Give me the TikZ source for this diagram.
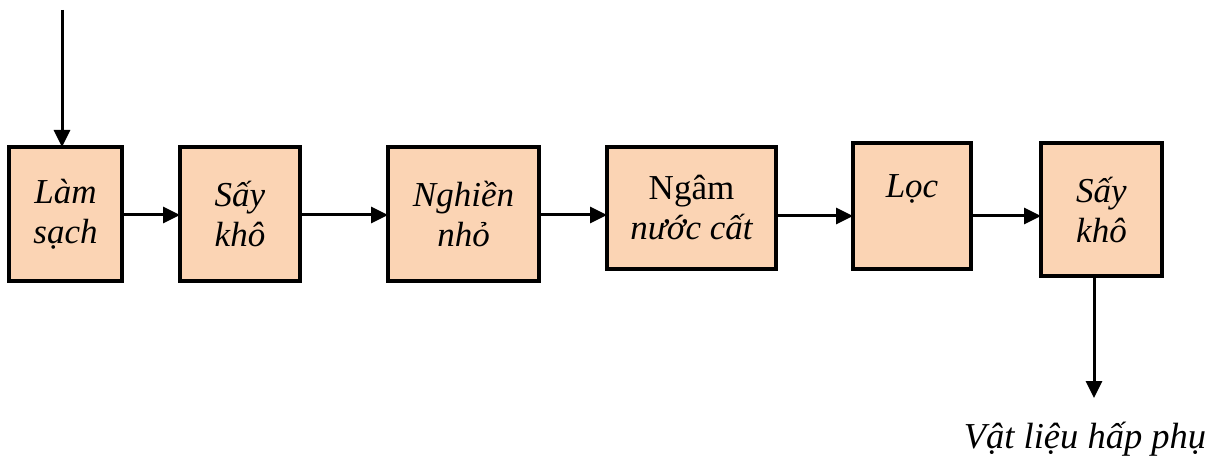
\documentclass[tikz,border=0pt]{standalone}
\usepackage{fontspec}
\setmainfont{Liberation Serif}
\usetikzlibrary{arrows.meta}
\definecolor{peach}{HTML}{FBD4B4}
\begin{document}
\begin{tikzpicture}[x=1pt,y=-1pt,
  box/.style={draw=black, line width=3.2pt, fill=peach, inner sep=0pt, outer sep=0pt,
    align=center, font=\fontsize{35}{40}\selectfont\itshape},
  arr/.style={line width=3pt, -{Triangle[length=17pt,width=16pt]}},
  lbl/.style={font=\fontsize{36.5}{40}\selectfont\itshape, inner sep=0pt}]
\useasboundingbox (0,0) rectangle (1227,457);
\node[box, minimum width=113pt, minimum height=134pt] (b1) at (65.5,214) {Làm\\sạch};
\node[box, minimum width=120pt, minimum height=134pt] (b2) at (240,214) {Sấy\\khô};
\node[box, minimum width=151pt, minimum height=134pt] (b3) at (463.5,214) {Nghiền\\nhỏ};
\node[box, minimum width=169pt, minimum height=122pt] (b4) at (691.5,208) {\upshape Ngâm\\nước cất};
\node[box, minimum width=118pt, minimum height=126pt] (b5) at (912,206) {Lọc\\\mbox{}};
\node[box, minimum width=121pt, minimum height=133pt] (b6) at (1101.5,209.5) {Sấy\\khô};
\coordinate (in) at (62,10);
\coordinate (out) at (1094,398);
\node[lbl, anchor=base] (res) at (1085,448) {Vật liệu hấp phụ};
\draw[arr] (in) -- (in |- b1.north);
\draw[arr] (b1.east |- 0,215) -- (b2.west |- 0,215);
\draw[arr] (b2.east |- 0,215) -- (b3.west |- 0,215);
\draw[arr] (b3.east |- 0,215) -- (b4.west |- 0,215);
\draw[arr] (b4.east |- 0,216) -- (b5.west |- 0,216);
\draw[arr] (b5.east |- 0,216) -- (b6.west |- 0,216);
\draw[arr] (out |- b6.south) -- (out);
\end{tikzpicture}
\end{document}
